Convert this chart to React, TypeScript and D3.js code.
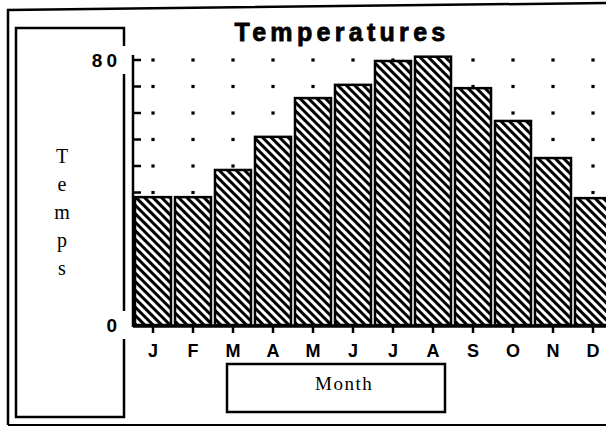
import React from "react";
import * as d3 from "d3";

const months = ["J", "F", "M", "A", "M", "J", "J", "A", "S", "O", "N", "D"];
const temps = [38.6, 38.6, 46.8, 56.8, 68.5, 72.5, 79.7, 81, 71.5, 61.6, 50.4, 38.3];
const yTicks = [0, 8, 16, 24, 32, 40, 48, 56, 64, 72, 80];
const yLabels = ["0", "80"];
const yTitle = ["T", "e", "m", "p", "s"];

const W = 606, H = 428;
const sans = "'Liberation Sans', Arial, sans-serif";
const serif = "'Liberation Serif', 'DejaVu Serif', serif";

export default function App() {
    const x = d3.scaleBand<number>()
        .domain(d3.range(months.length))
        .range([133, 133 + 40 * months.length])
        .paddingInner(0.1)
        .paddingOuter(0.05);
    const y = d3.scaleLinear().domain([0, 80]).range([325, 60]);

    const cx = (i: number) => (x(i) as number) + x.bandwidth() / 2;

    return (
        <svg width={W} height={H} style={{ position: "absolute", left: 0, top: 0, background: "#fff" }}>
            <defs>
                <pattern id="hatch" patternUnits="userSpaceOnUse" width={6} height={6} patternTransform="rotate(45)">
                    <rect width={6} height={6} fill="#fff" />
                    <rect width={6} height={3} fill="#000" />
                </pattern>
            </defs>

            {/* outer frame */}
            <path d="M8,425 L8,10 L606,3" fill="none" stroke="#000" strokeWidth={2.5} />
            <line x1={8} y1={425} x2={606} y2={425} stroke="#000" strokeWidth={2} />

            {/* y title box */}
            <rect x={16} y={28} width={108} height={389} fill="none" stroke="#000" strokeWidth={2.5} />

            {/* title */}
            <text x={342} y={41} textAnchor="middle" fontFamily={sans} fontWeight="bold" fontSize={25}
                letterSpacing={4.3} stroke="#000" strokeWidth={0.8}>
                Temperatures
            </text>

            {/* dot grid */}
            {yTicks.filter(t => t > 0).map(t =>
                months.map((_, i) => (
                    <rect key={`${t}-${i}`} x={cx(i) - 1.6} y={y(t) - 1.6} width={3.2} height={3.2} fill="#000" />
                ))
            )}

            {/* y axis */}
            <line x1={133} y1={55} x2={133} y2={327} stroke="#000" strokeWidth={2.5} />
            {yTicks.map(t => (
                <line key={t} x1={133} x2={141} y1={y(t)} y2={y(t)} stroke="#000" strokeWidth={2.5} />
            ))}
            {yLabels.map(l => (
                <g key={l}>
                    <rect x={l === "0" ? 104 : 86} y={y(+l) - 14} width={l === "0" ? 24 : 42} height={28} fill="#fff" />
                    <text x={121} y={y(+l) + 7} textAnchor="end" fontFamily={sans} fontWeight="bold" fontSize={19} letterSpacing={4}>
                        {l}
                    </text>
                </g>
            ))}

            {/* bars */}
            {temps.map((v, i) => (
                <rect key={i} x={x(i)} y={y(v)} width={x.bandwidth()} height={y(0) - y(v)}
                    fill="url(#hatch)" stroke="#000" strokeWidth={2.5} />
            ))}

            {/* x axis */}
            <line x1={133} x2={606} y1={326} y2={326} stroke="#000" strokeWidth={3.5} />
            {months.map((m, i) => (
                <g key={i}>
                    <line x1={cx(i)} x2={cx(i)} y1={326} y2={333} stroke="#000" strokeWidth={2.5} />
                    <text x={cx(i)} y={357} textAnchor="middle" fontFamily={sans} fontWeight="bold" fontSize={18}>{m}</text>
                </g>
            ))}

            {/* y title */}
            {yTitle.map((c, i) => (
                <text key={i} x={62} y={163 + i * 28} textAnchor="middle" fontFamily={serif} fontSize={20}>{c}</text>
            ))}

            {/* x title box */}
            <rect x={227} y={364} width={218} height={48} fill="none" stroke="#000" strokeWidth={2.5} />
            <text x={315} y={390} fontFamily={serif} fontSize={19} letterSpacing={1.5}>Month</text>
        </svg>
    );
}
